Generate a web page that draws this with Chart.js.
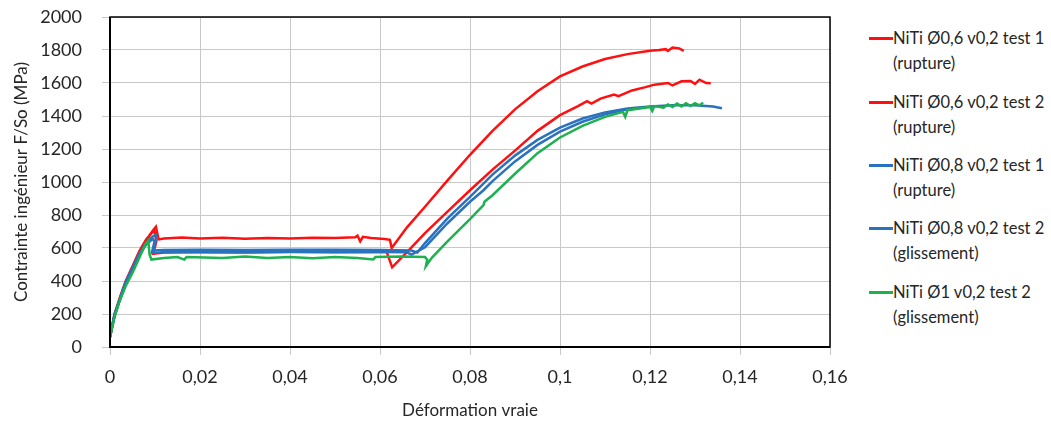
<!DOCTYPE html>
<html>
<head>
<meta charset="utf-8">
<script src="https://cdn.jsdelivr.net/npm/chart.js@4.4.1/dist/chart.umd.min.js"></script>
<style>
  body { margin: 0; background: #fff; width: 1051px; height: 434px; overflow: hidden; position: relative; font-family: Lato, sans-serif; }
  #wrap { position: absolute; left: 0; top: 0; width: 860px; height: 434px; }
  #legend { position: absolute; left: 869px; top: 0; }
  .item { position: absolute; left: 0; width: 182px; font-size: 16.5px; color: #262626; line-height: 25px; white-space: nowrap; }
  .item .ln { position: absolute; left: 0; top: 11px; width: 24px; height: 3px; }
  .item .tx { padding-left: 24px; }
</style>
</head>
<body>
<div id="wrap"><canvas id="stressChart" width="860" height="434"></canvas></div>
<div id="legend"></div>
<script>
// Series labels (legend), two lines each
const seriesNames = ['NiTi Ø0,6 v0,2 test 1', 'NiTi Ø0,6 v0,2 test 2', 'NiTi Ø0,8 v0,2 test 1', 'NiTi Ø0,8 v0,2 test 2', 'NiTi Ø1 v0,2 test 2'];
const seriesNotes = ['(rupture)', '(rupture)', '(rupture)', '(glissement)', '(glissement)'];

// Axis ticks
const xTicks = [0, 0.02, 0.04, 0.06, 0.08, 0.1, 0.12, 0.14, 0.16];
const yTicks = [0, 200, 400, 600, 800, 1000, 1200, 1400, 1600, 1800, 2000];

// NiTi Ø0,6 test 1
const red1X = [0, 0.001, 0.0022, 0.0035, 0.0051, 0.0066, 0.0082, 0.0095, 0.0102, 0.0108, 0.012, 0.016, 0.02, 0.025, 0.03, 0.035, 0.04, 0.045, 0.05, 0.0545, 0.055, 0.0556, 0.0562, 0.058, 0.061, 0.0622, 0.0626,
  0.066, 0.07, 0.075, 0.08, 0.085, 0.09, 0.095, 0.1, 0.105, 0.11, 0.115, 0.12, 0.122, 0.1235, 0.124, 0.125, 0.1265, 0.1275];
const red1Y = [60, 190, 290, 390, 480, 570, 650, 705, 728, 652, 658, 664, 658, 662, 656, 661, 657, 662, 660, 665, 675, 640, 668, 660, 655, 650, 600,
  725, 850, 1010, 1165, 1310, 1440, 1550, 1640, 1700, 1745, 1775, 1795, 1800, 1805, 1795, 1815, 1810, 1795];

// NiTi Ø0,6 test 2
const red2X = [0, 0.001, 0.0022, 0.0035, 0.005, 0.0065, 0.008, 0.0098, 0.0103, 0.0096, 0.012, 0.02, 0.03, 0.04, 0.05, 0.06, 0.0615, 0.0627,
  0.066, 0.07, 0.075, 0.08, 0.085, 0.09, 0.095, 0.1, 0.104, 0.106, 0.107, 0.109, 0.112, 0.113, 0.116, 0.119, 0.121, 0.124, 0.125, 0.127, 0.129, 0.13, 0.131, 0.1325, 0.1335];
const red2Y = [60, 195, 300, 400, 490, 580, 650, 710, 640, 565, 572, 576, 574, 577, 575, 576, 575, 483,
  575, 690, 820, 950, 1075, 1190, 1310, 1405, 1460, 1490, 1475, 1505, 1530, 1520, 1555, 1575, 1590, 1600, 1585, 1610, 1612, 1595, 1620, 1600, 1598];

// NiTi Ø0,8 test 1
const blue1X = [0, 0.001, 0.0022, 0.0035, 0.005, 0.0065, 0.008, 0.0095, 0.0102, 0.0104, 0.0096, 0.012, 0.02, 0.03, 0.04, 0.05, 0.06, 0.067, 0.0683,
  0.07, 0.075, 0.08, 0.085, 0.09, 0.095, 0.1, 0.105, 0.11, 0.115, 0.12, 0.125, 0.13, 0.134, 0.136];
const blue1Y = [60, 200, 295, 395, 480, 565, 630, 670, 680, 665, 585, 588, 590, 588, 590, 589, 588, 585, 572,
  630, 780, 910, 1045, 1160, 1255, 1330, 1385, 1422, 1445, 1458, 1465, 1465, 1458, 1447];

// NiTi Ø0,8 test 2
const blue2X = [0, 0.001, 0.0022, 0.0035, 0.005, 0.0065, 0.008, 0.0095, 0.0099, 0.0093, 0.012, 0.02, 0.03, 0.04, 0.05, 0.06, 0.066, 0.067,
  0.07, 0.075, 0.08, 0.083, 0.085, 0.09, 0.095, 0.1, 0.105, 0.11, 0.115, 0.118];
const blue2Y = [60, 190, 285, 385, 470, 555, 620, 655, 640, 570, 574, 576, 573, 576, 574, 575, 574, 560,
  605, 750, 880, 950, 1005, 1125, 1225, 1305, 1365, 1410, 1440, 1450];

// NiTi Ø1 test 2
const greenX = [0, 0.001, 0.002, 0.0035, 0.005, 0.0065, 0.0078, 0.0085, 0.0088, 0.0092, 0.012, 0.015, 0.0165, 0.017, 0.025, 0.03, 0.035, 0.04, 0.045, 0.05, 0.055, 0.0585, 0.059, 0.065, 0.07, 0.0705, 0.0702, 0.0715,
  0.075, 0.08, 0.083, 0.0832, 0.085, 0.09, 0.095, 0.1, 0.105, 0.11, 0.114, 0.1145, 0.115, 0.12, 0.1205, 0.121, 0.123, 0.124, 0.125, 0.126, 0.127, 0.128, 0.129, 0.13, 0.131, 0.1318];
const greenY = [60, 180, 270, 370, 450, 540, 620, 645, 560, 530, 540, 545, 530, 545, 540, 548, 540, 545, 538, 545, 540, 530, 545, 548, 545, 530, 490, 540,
  640, 775, 860, 880, 920, 1050, 1175, 1270, 1340, 1395, 1425, 1395, 1435, 1455, 1430, 1460, 1450, 1470, 1455, 1475, 1458, 1477, 1460, 1478, 1465, 1480];

const seriesX = [red1X, red2X, blue1X, blue2X, greenX];
const seriesY = [red1Y, red2Y, blue1Y, blue2Y, greenY];
const seriesColors = ['#ff1010', '#ff1010', '#2a72bd', '#2a72bd', '#1db14f'];

const fmt = v => Number(v.toFixed(2)).toString().replace('.', ',');

// frame around the plot area
const framePlugin = {
  id: 'frame',
  afterDraw(chart) {
    const { ctx, chartArea: a } = chart;
    ctx.save();
    ctx.strokeStyle = '#000';
    ctx.lineWidth = 1.5;
    ctx.strokeRect(a.left, a.top, a.right - a.left, a.bottom - a.top);
    ctx.lineWidth = 2;
    ctx.beginPath();
    ctx.moveTo(a.left, a.top);
    ctx.lineTo(a.left, a.bottom);
    ctx.lineTo(a.right, a.bottom);
    ctx.stroke();
    ctx.restore();
  }
};

const datasets = seriesNames.map((name, i) => ({
  label: name,
  data: seriesX[i].map((x, k) => ({ x: x, y: seriesY[i][k] })),
  borderColor: seriesColors[i],
  backgroundColor: seriesColors[i],
  borderWidth: 2.5,
  pointRadius: 0,
  showLine: true,
  tension: 0,
  order: 5 - i
}));

new Chart(document.getElementById('stressChart'), {
  type: 'scatter',
  data: { datasets: datasets },
  options: {
    responsive: false,
    animation: false,
    layout: { padding: { top: 17, right: 30, left: 0, bottom: 0 } },
    plugins: { legend: { display: false }, tooltip: { enabled: false } },
    scales: {
      x: {
        type: 'linear', min: 0, max: 0.16,
        afterBuildTicks: s => { s.ticks = xTicks.map(v => ({ value: v })); },
        afterFit: s => { s.height = 87; },
        grid: { color: '#c8c8c8', lineWidth: 1, tickLength: 8 },
        border: { display: false },
        ticks: { color: '#262626', font: { family: 'Lato', size: 18 }, padding: 11, maxRotation: 0, callback: v => fmt(v) },
        title: { display: true, text: 'Déformation vraie', color: '#262626', font: { family: 'Lato', size: 17 }, padding: { top: 0, bottom: 13 } }
      },
      y: {
        type: 'linear', min: 0, max: 2000,
        afterBuildTicks: s => { s.ticks = yTicks.map(v => ({ value: v })); },
        // fixed width; drop the tick-padding overhang so the plot top sits at the layout padding
        afterFit: s => { s.width = 110; s.paddingTop = 0; s.paddingBottom = 0; },
        grid: { color: '#c8c8c8', lineWidth: 1, tickLength: 8 },
        border: { display: false },
        ticks: { color: '#262626', font: { family: 'Lato', size: 18 }, padding: 20, callback: v => String(v) },
        title: { display: true, text: 'Contrainte ingénieur F/So (MPa)', color: '#262626', font: { family: 'Lato', size: 17 }, padding: { top: 11, bottom: 0 } }
      }
    }
  },
  plugins: [framePlugin]
});

// HTML legend with two-line labels
const legendTops = [26, 90, 153, 216, 280];
const legend = document.getElementById('legend');
seriesNames.forEach((name, i) => {
  const item = document.createElement('div');
  item.className = 'item';
  item.style.top = legendTops[i] + 'px';
  item.innerHTML = `<span class="ln" style="background:${seriesColors[i]}"></span><div class="tx">${name}<br>${seriesNotes[i]}</div>`;
  legend.appendChild(item);
});
</script>
</body>
</html>
